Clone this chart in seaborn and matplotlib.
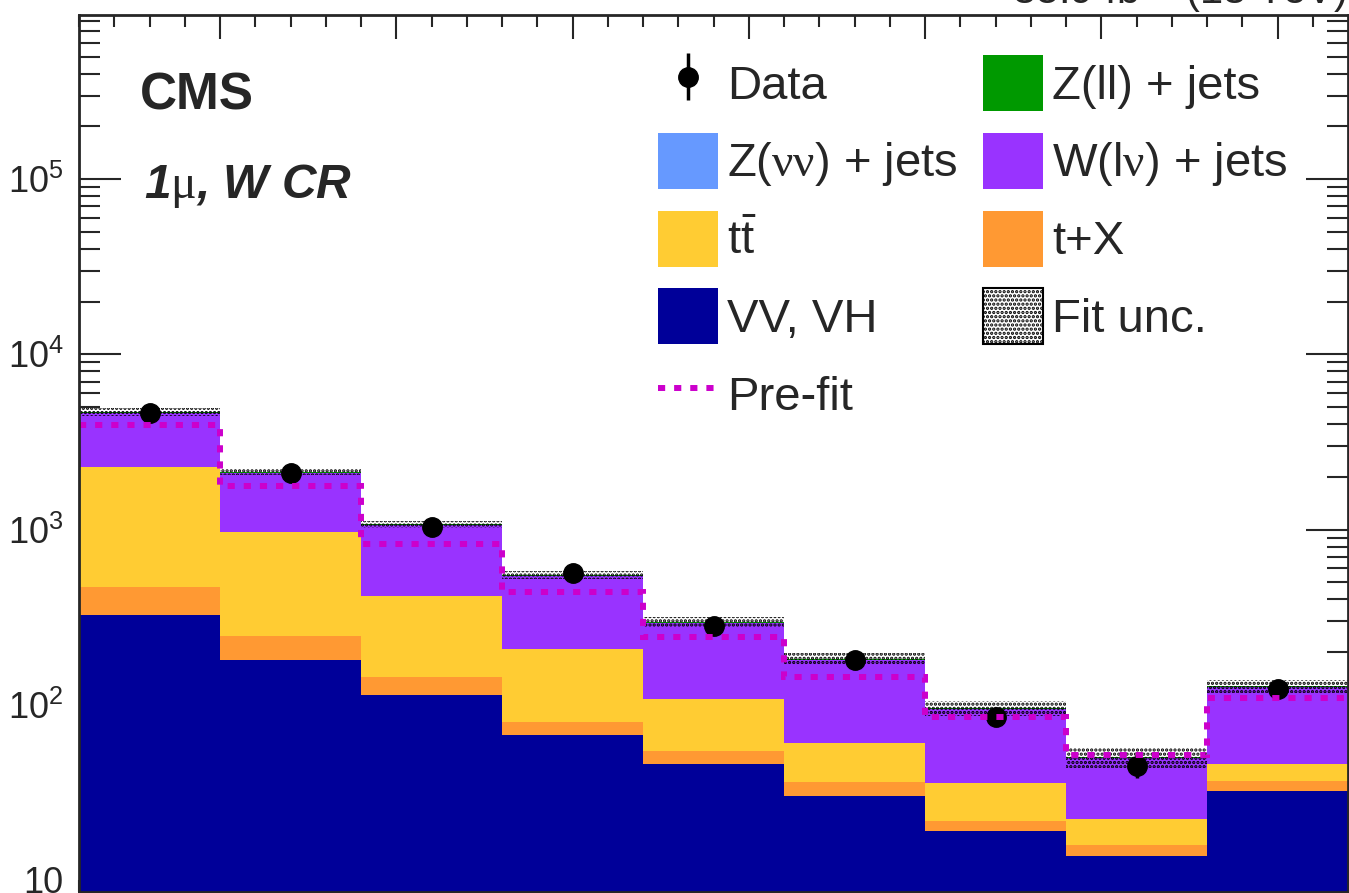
import numpy as np
import pandas as pd
import matplotlib
matplotlib.use("Agg")
import matplotlib.pyplot as plt
from matplotlib.patches import Patch
from matplotlib.lines import Line2D
from matplotlib.ticker import FixedLocator, LogLocator, FuncFormatter, NullFormatter
import seaborn as sns

# ---- data ----
edges = np.arange(10)  # 9 equal-width bins
processes = ["Z(ll) + jets", "Z(νν) + jets", "W(lν) + jets", "tt", "t+X", "VV, VH"]
vv = [325, 180, 114, 67, 46, 30, 19, 13.7, 32]
t_x = [145, 67, 30, 13, 8.6, 6.1, 2.7, 2.1, 4.9]
ttbar = [1810, 720, 274, 128, 54, 24.5, 14.1, 6.5, 9.2]
w_lnu = [2350, 1140, 644, 335, 185, 120, 59, 27.5, 80]
z_nunu = [8, 4, 2, 1, 0.5, 0.3, 0.2, 0.1, 0.2]
z_ll = [45, 22, 12, 6, 3, 1.8, 0.9, 0.5, 1.2]
data = [4620, 2090, 1040, 565, 283, 180, 85, 45, 123]
data_err = [68, 46, 32, 24, 17, 13.4, 9.2, 6.7, 11.1]
prefit = [3950, 1775, 828, 441, 244, 144, 85, 51.6, 109]
fit_unc = [0.05, 0.045, 0.045, 0.05, 0.06, 0.08, 0.10, 0.13, 0.08]

colors = {
    "Z(ll) + jets": "#009900",
    "Z(νν) + jets": "#6699ff",
    "W(lν) + jets": "#9933ff",
    "tt": "#ffcc33",
    "t+X": "#ff9933",
    "VV, VH": "#000099",
}

yields = {"Z(ll) + jets": z_ll, "Z(νν) + jets": z_nunu, "W(lν) + jets": w_lnu,
          "tt": ttbar, "t+X": t_x, "VV, VH": vv}
centers = edges[:-1] + 0.5
df = pd.concat([pd.DataFrame({"x": centers, "y": yields[p], "proc": p}) for p in processes],
               ignore_index=True)

# ---- style ----
sns.set_style("ticks")
plt.rcParams.update({
    "font.family": ["Liberation Sans", "DejaVu Sans"],
    "mathtext.fontset": "custom",
    "mathtext.rm": "Liberation Sans",
    "mathtext.it": "Liberation Sans:italic",
    "mathtext.bf": "Liberation Sans:bold",
    "mathtext.sf": "Liberation Serif",
    "hatch.linewidth": 1.6,
    "axes.linewidth": 2.0,
})

fig = plt.figure(figsize=(13.49, 8.93), dpi=100)
ax = fig.add_axes([79 / 1349, 1 / 893, 1269 / 1349, 877 / 893])

# stacked backgrounds (first hue level ends on top of the stack)
sns.histplot(df, x="x", weights="y", hue="proc", hue_order=processes, palette=colors,
             multiple="stack", binwidth=1, binrange=(edges[0], edges[-1]), element="step",
             linewidth=0, alpha=1, legend=False, ax=ax)
ax.set_yscale("log")

total = np.sum([yields[p] for p in processes], axis=0)
unc = np.array(fit_unc)
ax.stairs(total * (1 + unc), edges, baseline=total * (1 - unc), fill=True,
          facecolor="none", edgecolor="black", hatch="....", linewidth=0, zorder=3)

data_art = ax.errorbar(centers, data, yerr=data_err, fmt="o", color="black", ms=14,
                       elinewidth=2.5, capsize=0, zorder=4)

ax.stairs(prefit, edges, baseline=None, color="#cc00cc", linewidth=4.3,
          linestyle=(0, (1.2, 1.5)), zorder=5)

# ---- axes ----
ax.set_xlim(edges[0], edges[-1])
ax.set_ylim(8.54, 8.65e5)
ax.set_xlabel("")
ax.set_ylabel("")
ax.xaxis.set_major_locator(FixedLocator(np.arange(1, 9, 1.25)))
ax.xaxis.set_minor_locator(FixedLocator(np.arange(0, 9, 0.25)))
ax.yaxis.set_major_locator(LogLocator(base=10))
ax.yaxis.set_minor_locator(LogLocator(base=10, subs=np.arange(2, 10)))
ax.yaxis.set_major_formatter(FuncFormatter(
    lambda v, _: "10" if round(np.log10(v)) == 1 else "10$^{%d}$" % round(np.log10(v))))
ax.yaxis.set_minor_formatter(NullFormatter())
ax.tick_params(which="both", direction="in", top=True, right=True, width=1.5,
               labelbottom=False, labelsize=26, pad=11)
ax.yaxis.set_tick_params(which="major", length=30)
ax.yaxis.set_tick_params(which="minor", length=15)
ax.xaxis.set_tick_params(which="major", length=17)
ax.xaxis.set_tick_params(which="minor", length=8.6)
for s in ax.spines.values():
    s.set_visible(True)
    s.set_zorder(6)

# ---- legend ----
h = {p: Patch(facecolor=colors[p], edgecolor="none") for p in processes}
h_unc = Patch(facecolor="white", edgecolor="black", hatch="....", linewidth=1.5)
h_pre = Line2D([], [], color="#cc00cc", linewidth=4.3, linestyle=(0, (1.2, 1.5)))
handles = [data_art, h["Z(νν) + jets"], h["tt"], h["VV, VH"], h_pre,
           h["Z(ll) + jets"], h["W(lν) + jets"], h["t+X"], h_unc]
labels = ["Data", r"Z($\mathsf{\nu\nu}$) + jets", r"t$\bar{\mathrm{t}}$", "VV, VH", "Pre-fit",
          "Z(ll) + jets", r"W(l$\mathsf{\nu}$) + jets", "t+X", "Fit unc."]
fig.legend(handles, labels, loc="upper left", bbox_to_anchor=(658 / 1349, 1 - 55 / 893),
           ncol=2, frameon=False, fontsize=34, borderpad=0, borderaxespad=0,
           handlelength=1.27, handleheight=1.45, handletextpad=0.2, labelspacing=0.46,
           columnspacing=0.52)

# ---- texts ----
fig.text(140 / 1349, 1 - 110 / 893, "CMS", fontsize=37, fontweight="bold", va="baseline")
fig.text(144 / 1349, 1 - 198 / 893, r"1$\mathsf{\mu}$, W CR", fontsize=34.5,
         fontweight="bold", fontstyle="italic", va="baseline")
fig.text(1347 / 1349, 1 - 4 / 893, "35.9 fb$^{-1}$ (13 TeV)", fontsize=30,
         ha="right", va="baseline")

fig.savefig("out.png", dpi=100)
